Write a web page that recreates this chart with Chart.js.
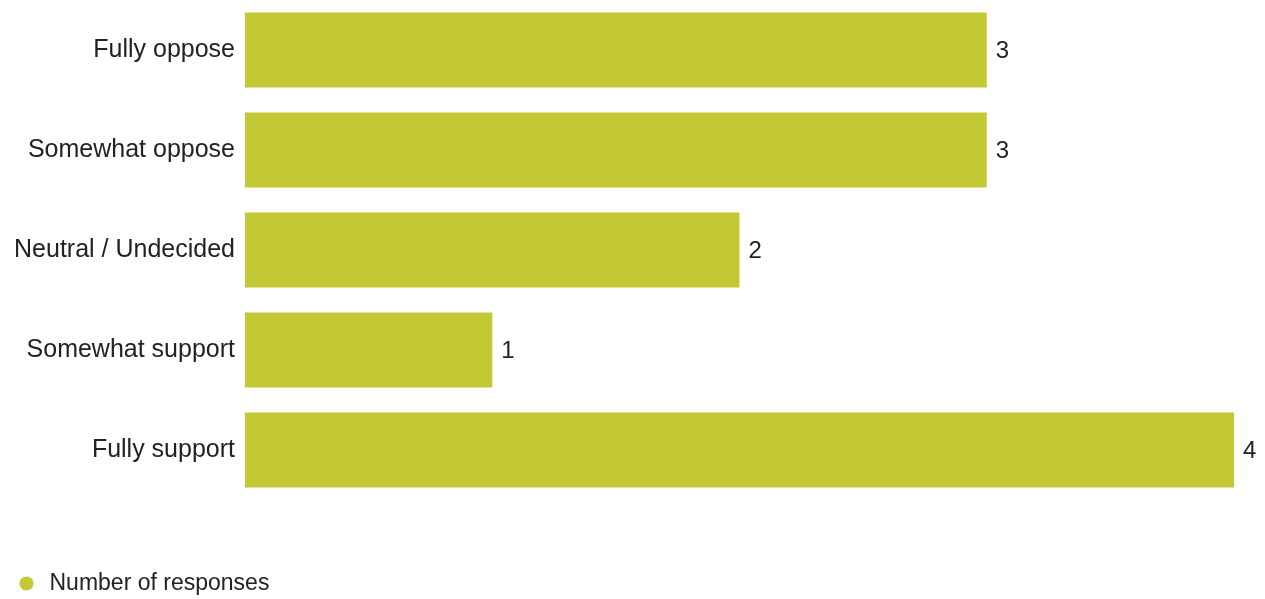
<!DOCTYPE html>
<html>
<head>
<meta charset="utf-8">
<script src="https://cdn.jsdelivr.net/npm/chart.js@4.4.1/dist/chart.umd.min.js"></script>
<style>
  html, body { margin: 0; padding: 0; background: #ffffff; overflow: hidden; }
  #wrap { width: 1265px; height: 605px; position: relative; }
</style>
</head>
<body>
<div id="wrap"><canvas id="c"></canvas></div>
<script>
const categories = ["Fully oppose", "Somewhat oppose", "Neutral / Undecided", "Somewhat support", "Fully support"];
const responses = [3, 3, 2, 1, 4];
const seriesName = "Number of responses";
const barColor = "#c2c934";
const textColor = "#222222";

const valueLabels = {
  id: 'valueLabels',
  afterDatasetsDraw(chart) {
    const ctx = chart.ctx;
    const meta = chart.getDatasetMeta(0);
    ctx.save();
    ctx.font = '24px "Liberation Sans", Arial, sans-serif';
    ctx.fillStyle = textColor;
    ctx.textAlign = 'left';
    ctx.textBaseline = 'middle';
    meta.data.forEach((bar, i) => {
      ctx.fillText(String(responses[i]), bar.x + 9, bar.y + 1);
    });
    ctx.restore();
  }
};

new Chart(document.getElementById('c'), {
  type: 'bar',
  data: {
    labels: categories,
    datasets: [{
      label: seriesName,
      data: responses,
      backgroundColor: barColor,
      borderColor: barColor,
      borderWidth: 0,
      barPercentage: 0.75,
      categoryPercentage: 1.0
    }]
  },
  options: {
    indexAxis: 'y',
    responsive: true,
    maintainAspectRatio: false,
    animation: false,
    layout: { autoPadding: false, padding: { left: 5, right: 31, top: 0, bottom: 0 } },
    scales: {
      x: {
        min: 0, max: 4,
        display: true,
        grid: { display: false },
        border: { display: false },
        ticks: { display: false },
        afterFit(scale) { scale.height = 62; scale.paddingLeft = 0; scale.paddingRight = 0; }
      },
      y: {
        grid: { display: false, drawTicks: false },
        border: { display: false },
        ticks: {
          padding: 10,
          color: textColor,
          font: { family: '"Liberation Sans", Arial, sans-serif', size: 25 }
        },
        afterFit(scale) { scale.width = 240; scale.paddingTop = 0; scale.paddingBottom = 0; }
      }
    },
    plugins: {
      tooltip: { enabled: false },
      legend: {
        display: true,
        position: 'bottom',
        align: 'start',
        labels: {
          usePointStyle: true,
          pointStyle: 'circle',
          boxWidth: 23,
          boxHeight: 10,
          padding: 10,
          color: textColor,
          font: { family: '"Liberation Sans", Arial, sans-serif', size: 23 }
        }
      }
    }
  },
  plugins: [valueLabels]
});
</script>
</body>
</html>
